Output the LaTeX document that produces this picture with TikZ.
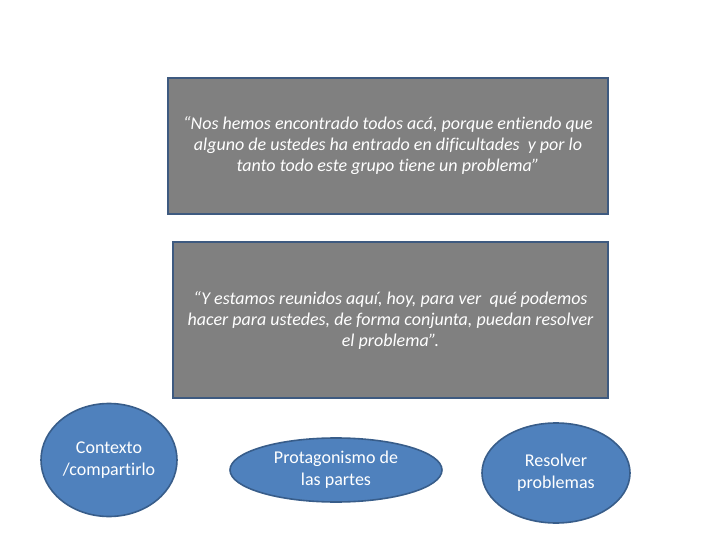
\documentclass[tikz,border=0pt]{standalone}
\usepackage{fontspec}
\setmainfont[Ligatures={NoCommon}]{Carlito}
\usetikzlibrary{shapes.geometric}
\definecolor{boxgray}{HTML}{808080}
\definecolor{edgeblue}{HTML}{3E5A80}
\definecolor{ovalblue}{HTML}{4F81BD}
\definecolor{ovaledge}{HTML}{385D8A}
\tikzset{
  quotebox/.style={draw=edgeblue, line width=1.6pt, fill=boxgray, inner sep=0pt,
    text=white, align=center, font=\fontsize{18}{21}\selectfont\itshape},
  oval/.style={ellipse, draw=ovaledge, line width=1.6pt, fill=ovalblue, inner sep=0pt,
    text=white, align=center, font=\fontsize{18}{22}\selectfont}
}
\begin{document}
\begin{tikzpicture}[x=1pt,y=-1pt]
\useasboundingbox (0,0) rectangle (720,540);
\node[quotebox, minimum width=440pt, minimum height=136pt] (q1) at (388,146)
  {“Nos hemos encontrado todos acá, porque entiendo que\\alguno de ustedes ha entrado en dificultades\ \ y por lo\\tanto todo este grupo tiene un problema”};
\node[quotebox, minimum width=435pt, minimum height=156pt] (q2) at (390.5,320)
  {“Y estamos reunidos aquí, hoy, para ver\ \ qué podemos\\hacer para ustedes, de forma conjunta, puedan resolver\\el problema”.};
\node[oval, minimum width=136pt, minimum height=113pt] (o1) at (109,460) {Contexto\\/compartirlo};
\node[oval, minimum width=212pt, minimum height=64pt] (o2) at (336,470) {Protagonismo de\\las partes};
\node[oval, minimum width=148pt, minimum height=100pt] (o3) at (556,473) {Resolver\\problemas};
\end{tikzpicture}
\end{document}
